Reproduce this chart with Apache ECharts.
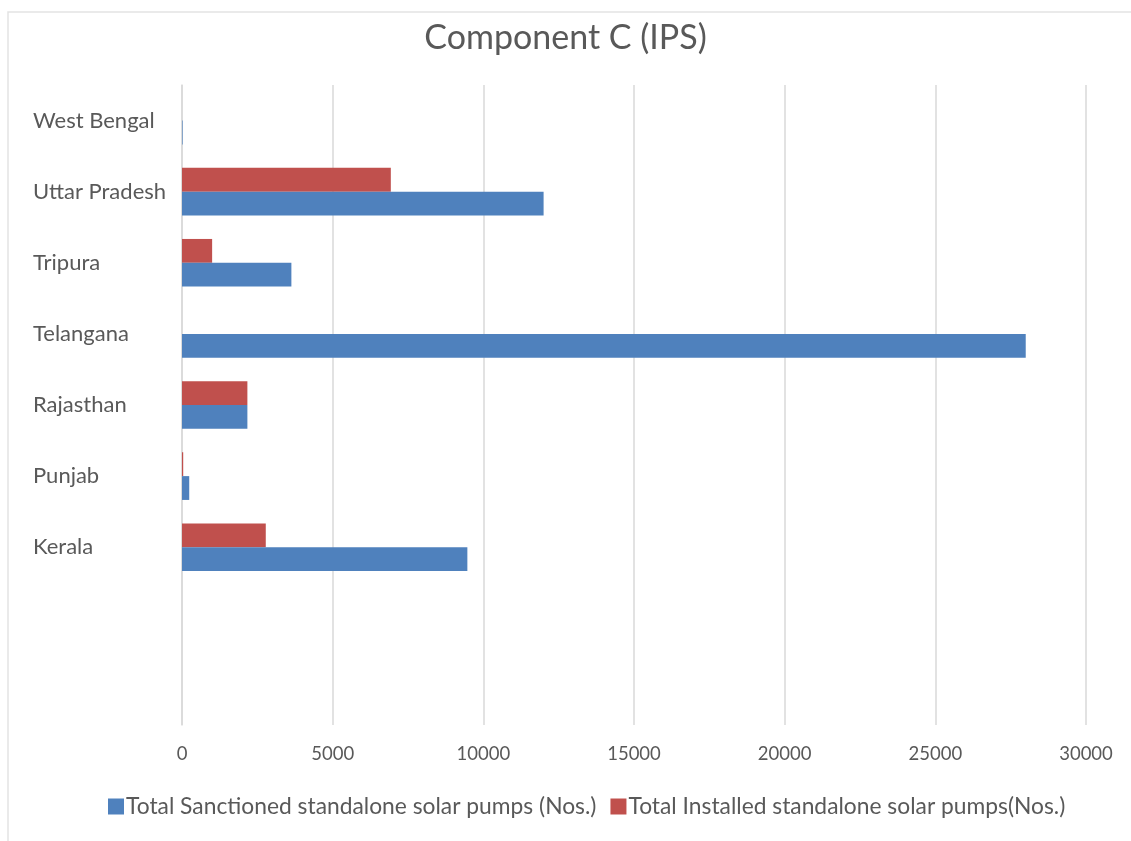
<!DOCTYPE html>
<html>
<head>
<meta charset="utf-8">
<script src="https://cdn.jsdelivr.net/npm/echarts@6/dist/echarts.min.js"></script>
<style>
  html, body { margin: 0; padding: 0; background: #ffffff; }
  #chart { width: 1131px; height: 841px; }
</style>
</head>
<body>
<div id="chart"></div>
<script>
// States, bottom to top; the two blank rows leave empty space under Kerala
const states = ['', '', 'Kerala', 'Punjab', 'Rajasthan', 'Telangana', 'Tripura', 'Uttar Pradesh', 'West Bengal'];
const sanctioned = [null, null, 9470, 240, 2170, 28000, 3630, 12000, 20];
const installed = [null, null, 2780, 40, 2170, 0, 1000, 6930, 0];
const xTicks = [0, 5000, 10000, 15000, 20000, 25000, 30000];

const seriesNames = [
  'Total Sanctioned standalone solar pumps (Nos.)',
  'Total Installed standalone solar pumps(Nos.)'
];
const blue = '#4F81BD';
const red = '#C0504D';
const textColor = '#595959';
const font = 'Lato, "Open Sans", sans-serif';

const chart = echarts.init(document.getElementById('chart'), null, { renderer: 'canvas' });

chart.setOption({
  animation: false,
  backgroundColor: '#ffffff',
  textStyle: { fontFamily: font },
  graphic: [{
    type: 'rect',
    shape: { x: 8, y: 12, width: 1140, height: 840 },
    style: { fill: 'none', stroke: '#e3e3e3', lineWidth: 1.5 },
    silent: true
  }],
  title: {
    text: 'Component C (IPS)',
    left: 'center',
    top: 16,
    textStyle: { fontFamily: font, fontSize: 34, fontWeight: 'normal', color: textColor }
  },
  legend: {
    bottom: 18,
    left: 103,
    icon: 'rect',
    itemWidth: 16,
    itemHeight: 16,
    itemGap: 14,
    textStyle: { fontFamily: font, fontSize: 22.8, color: textColor, padding: [0, 0, 0, -3] },
    data: seriesNames
  },
  grid: { left: 182, right: 45, top: 85, bottom: 116, containLabel: false },
  xAxis: {
    type: 'value',
    min: xTicks[0],
    max: xTicks[xTicks.length - 1],
    interval: xTicks[1] - xTicks[0],
    axisLine: { show: false },
    axisTick: { show: false },
    axisLabel: {
      color: textColor, fontSize: 18.5, fontFamily: font, margin: 20,
      formatter: (v) => String(v)
    },
    splitLine: { lineStyle: { color: '#d9d9d9', width: 1.5 } }
  },
  yAxis: {
    type: 'category',
    data: states,
    axisLine: { show: true, lineStyle: { color: '#d9d9d9', width: 1.5 } },
    axisTick: { show: false },
    axisLabel: { color: textColor, fontSize: 22, fontFamily: font, align: 'left', margin: 149 }
  },
  series: [
    {
      name: seriesNames[1],
      type: 'bar',
      data: installed,
      itemStyle: { color: red },
      barGap: '0%',
      barCategoryGap: '33%'
    },
    {
      name: seriesNames[0],
      type: 'bar',
      data: sanctioned,
      itemStyle: { color: blue },
      barGap: '0%',
      barCategoryGap: '33%'
    }
  ]
});
</script>
</body>
</html>
